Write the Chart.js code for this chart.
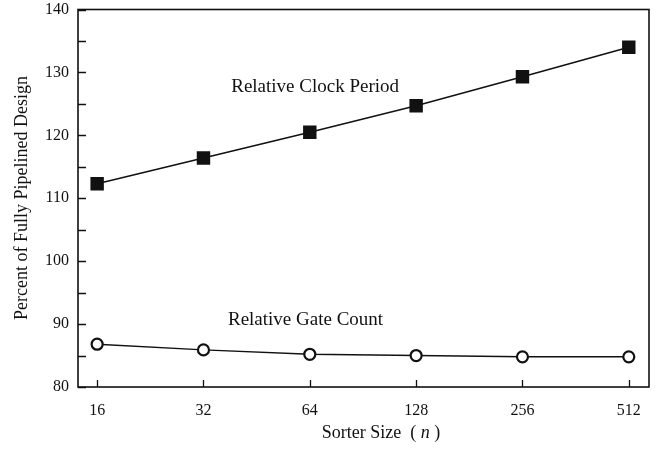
<!DOCTYPE html>
<html>
<head>
<meta charset="utf-8">
<script src="https://cdn.jsdelivr.net/npm/chart.js@4"></script>
<style>
  html, body { margin: 0; padding: 0; background: #fff; }
  #wrap { width: 665px; height: 449px; position: relative; }
</style>
</head>
<body>
<div id="wrap"><canvas id="c"></canvas></div>
<script>
const sizes = ["16", "32", "64", "128", "256", "512"];
const clockPeriod = [112.3, 116.4, 120.5, 124.7, 129.3, 134.0];
const gateCount = [86.8, 85.9, 85.2, 85.0, 84.8, 84.8];
const yTicks = [80, 90, 100, 110, 120, 130, 140];

const FONT = "'Liberation Serif', 'Times New Roman', serif";
const INK = "#111";

// inward tick marks, closed frame, in-plot labels and axis titles
const decor = {
  id: "decor",
  afterDraw(chart) {
    const { ctx, chartArea: a, scales: { x, y } } = chart;
    ctx.save();
    ctx.strokeStyle = INK;
    ctx.lineWidth = 1.6;
    ctx.strokeRect(a.left, a.top, a.right - a.left, a.bottom - a.top);

    ctx.lineWidth = 1.3;
    ctx.beginPath();
    for (let v = 80; v <= 140; v += 5) {
      const py = Math.round(y.getPixelForValue(v)) + 0.5;
      ctx.moveTo(a.left, py);
      ctx.lineTo(a.left + 8, py);
    }
    sizes.forEach((_, i) => {
      const px = Math.round(x.getPixelForValue(i)) + 0.5;
      ctx.moveTo(px, a.bottom);
      ctx.lineTo(px, a.bottom - 7);
    });
    ctx.stroke();

    ctx.fillStyle = INK;
    ctx.font = "19px " + FONT;
    ctx.textAlign = "center";
    ctx.textBaseline = "middle";
    ctx.fillText("Relative Clock Period", x.getPixelForValue(2.05), y.getPixelForValue(127.65));
    ctx.fillText("Relative Gate Count", x.getPixelForValue(1.96), y.getPixelForValue(90.6));

    // x title with italic n
    const cx = 381, cy = 433;
    const p1 = "Sorter Size  ( ", p2 = "n", p3 = " )";
    ctx.font = "18px " + FONT;
    const w1 = ctx.measureText(p1).width, w3 = ctx.measureText(p3).width;
    ctx.font = "italic 18px " + FONT;
    const w2 = ctx.measureText(p2).width;
    let sx = cx - (w1 + w2 + w3) / 2;
    ctx.textAlign = "left";
    ctx.font = "18px " + FONT;
    ctx.fillText(p1, sx, cy);
    ctx.font = "italic 18px " + FONT;
    ctx.fillText(p2, sx + w1, cy);
    ctx.font = "18px " + FONT;
    ctx.fillText(p3, sx + w1 + w2, cy);

    // y title
    ctx.translate(22, 198);
    ctx.rotate(-Math.PI / 2);
    ctx.textAlign = "center";
    ctx.fillText("Percent of Fully Pipelined Design", 0, 0);
    ctx.restore();
  }
};

new Chart(document.getElementById("c"), {
  type: "line",
  data: {
    datasets: [
      {
        label: "Relative Clock Period",
        data: clockPeriod.map((v, i) => ({ x: i, y: v })),
        borderColor: INK,
        borderWidth: 1.6,
        pointStyle: "rect",
        pointRadius: 9.5,
        pointBackgroundColor: INK,
        pointBorderColor: INK,
        pointBorderWidth: 0,
        tension: 0
      },
      {
        label: "Relative Gate Count",
        data: gateCount.map((v, i) => ({ x: i, y: v })),
        borderColor: INK,
        borderWidth: 1.4,
        pointStyle: "circle",
        pointRadius: 5.5,
        pointBackgroundColor: "#fff",
        pointBorderColor: INK,
        pointBorderWidth: 2.2,
        tension: 0
      }
    ]
  },
  options: {
    responsive: true,
    maintainAspectRatio: false,
    animation: false,
    layout: { padding: { top: 0, right: 16, left: 0, bottom: 0 } },
    plugins: { legend: { display: false }, tooltip: { enabled: false } },
    scales: {
      x: {
        type: "linear",
        min: -0.18,
        max: 5.19,
        afterBuildTicks: s => { s.ticks = sizes.map((_, i) => ({ value: i })); },
        afterFit: s => { s.height = 62; },
        grid: { display: false, drawTicks: false },
        border: { display: false },
        ticks: {
          padding: 14,
          color: INK,
          font: { family: FONT, size: 16 },
          callback: v => sizes[v] ?? ""
        }
      },
      y: {
        min: 80,
        max: 140,
        afterBuildTicks: s => { s.ticks = yTicks.map(v => ({ value: v })); },
        afterFit: s => { s.width = 78; s.paddingTop = 8; s.paddingBottom = 0; },
        grid: { display: false, drawTicks: false },
        border: { display: false },
        ticks: {
          padding: 9,
          color: INK,
          font: { family: FONT, size: 16 }
        }
      }
    }
  },
  plugins: [decor]
});
</script>
</body>
</html>
